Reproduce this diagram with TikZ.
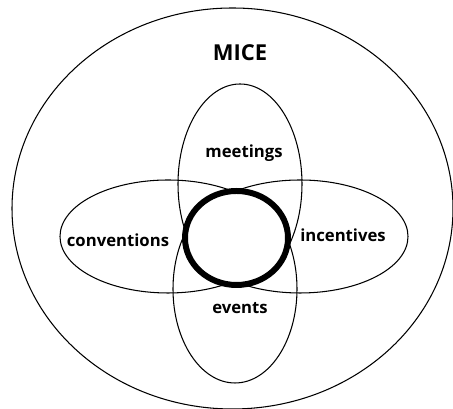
\documentclass[tikz,border=0pt]{standalone}
\usepackage{fontspec}
\setmainfont{Open Sans}[BoldFont={Open Sans Bold}]
\usetikzlibrary{positioning}
\tikzset{
  thin line/.style={line width=0.6pt},
  label text/.style={font=\fontsize{9.5}{11}\selectfont\bfseries, inner sep=1pt}
}
\begin{document}
\begin{tikzpicture}
        \useasboundingbox (0,0) rectangle (9.06,8.18);
        % The outer set
        \draw[thin line] (4.65, 4.01) ellipse (4.41 and 4.01);
        \node[font=\fontsize{12.5}{14}\selectfont\bfseries] (mice) at (4.80, 7.12) {MICE};

        % The four sets
        \draw[thin line] (4.80, 4.50) ellipse (1.24 and 2.00);
        \draw[thin line] (4.70, 2.40) ellipse (1.24 and 1.88);
        \draw[thin line] (3.36, 3.45) ellipse (2.16 and 1.13);
        \draw[thin line] (6.00, 3.45) ellipse (2.16 and 1.13);

        % The common core
        \draw[line width=3.4pt, fill=white] (4.73, 3.42) ellipse (1.03 and 0.94);

        \node[label text] (meetings) at (4.88, 5.12) {meetings};
        \node[label text] (conventions) at (2.36, 3.38) {conventions};
        \node[label text] (incentives) at (6.86, 3.48) {incentives};
        \node[label text] (events) at (4.80, 2.02) {events};
\end{tikzpicture}
\end{document}
